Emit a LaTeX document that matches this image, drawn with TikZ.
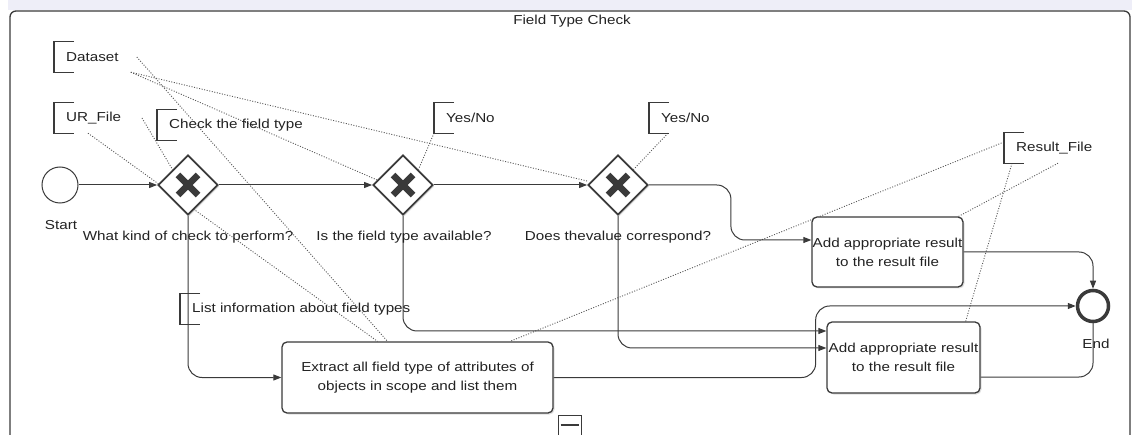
\documentclass[tikz,border=0pt]{standalone}
\usepackage{fontspec}
\setmainfont[FakeStretch=1.17]{Liberation Sans}
\usetikzlibrary{shapes.geometric,arrows.meta,backgrounds,shadows}
\definecolor{ln}{HTML}{3A3A3A}
\definecolor{band}{HTML}{EEEEF8}
\definecolor{txt}{HTML}{222222}
\begin{document}
\begin{tikzpicture}[x=1pt,y=-1pt,
  every node/.style={font=\fontsize{13}{19}\selectfont, text=txt},
  task/.style={rectangle, rounded corners=5pt, draw=ln, line width=1.3pt, fill=white, inner sep=0pt, align=center,
    drop shadow={shadow xshift=1.5pt, shadow yshift=-1.5pt, opacity=0.25}},
  gw/.style={diamond, draw=ln, line width=1.8pt, fill=white, minimum width=60pt, minimum height=60pt, inner sep=0pt,
    drop shadow={shadow xshift=1.5pt, shadow yshift=-1.5pt, opacity=0.25}},
  xmark/.style={draw=ln, line width=6.5pt},
  startev/.style={circle, draw=ln, line width=1pt, fill=white, minimum size=36pt, inner sep=0pt},
  endev/.style={circle, draw=ln, line width=3.5pt, fill=white, minimum size=31pt, inner sep=0pt},
  annot/.style={anchor=west, minimum height=30pt, inner xsep=12pt, inner ysep=0pt},
  bracket/.style={draw=ln, line width=1.2pt},
  flow/.style={draw=ln, line width=1pt, rounded corners=14pt, -{Triangle[length=8pt,width=6pt]}},
  plainflow/.style={draw=ln, line width=1pt, rounded corners=14pt},
  assoc/.style={draw=gray!70!black, line width=0.9pt, dash pattern=on 1pt off 1.6pt},
  frame/.style={draw=ln, line width=1.3pt, rounded corners=6pt},
  lbl/.style={inner sep=0pt}
]
\useasboundingbox (0,0) rectangle (1132,435);
\fill[band] (8,0) rectangle (1132,10);

% ---------- nodes ----------
\node[lbl] (title) at (572,21) {Field Type Check};

\node[startev] (s) at (60,185) {};
\node[lbl] (slbl) at (61,225) {Start};

\node[gw] (g1) at (188,185) {};
\node[gw] (g2) at (403,185) {};
\node[gw] (g3) at (618,185) {};
\foreach \g in {g1,g2,g3}{
  \draw[xmark] ([shift={(-10,-10)}]\g.center) -- ([shift={(10,10)}]\g.center);
  \draw[xmark] ([shift={(-10,10)}]\g.center) -- ([shift={(10,-10)}]\g.center);
}
\node[lbl] (g1lbl) at (188,237) {What kind of check to perform?};
\node[lbl] (g2lbl) at (404,237) {Is the field type available?};
\node[lbl] (g3lbl) at (618,237) {Does thevalue correspond?};

\node[task, minimum width=271pt, minimum height=71pt] (t1) at (417.5,377.5)
  {Extract all field type of attributes of\\objects in scope and list them};
\node[task, minimum width=151pt, minimum height=70pt] (t2) at (887.5,252)
  {Add appropriate result\\to the result file};
\node[task, minimum width=153pt, minimum height=71pt] (t3) at (903.5,357.5)
  {Add appropriate result\\to the result file};

\node[endev] (e) at (1093,306) {};
\node[lbl] (elbl) at (1096,344) {End};

% annotations
\node[annot] (ds) at (54,57) {Dataset};
\node[annot] (ur) at (54,118) {UR\_File};
\node[annot] (ck) at (157,125) {Check the field type};
\node[annot] (yn1) at (434,118) {Yes/No};
\node[annot] (yn2) at (649,118) {Yes/No};
\node[annot] (rf) at (1004,148) {Result\_File};
\node[annot] (li) at (180,309) {List information about field types};
\foreach \n in {ds,ur,ck,yn1,yn2,rf,li}
  \draw[bracket] ([xshift=20pt]\n.north west) -- (\n.north west) -- (\n.south west) -- ([xshift=20pt]\n.south west);

% collapse marker
\begin{scope}
\clip (0,0) rectangle (1132,435);
\node[draw=ln, line width=1pt, fill=white, minimum width=23pt, minimum height=26pt, inner sep=0pt] (cm) at (569.5,428) {};
\draw[ln, line width=2.2pt] ([shift={(3,0)}]cm.west |- 0,425) -- ([shift={(-3,0)}]cm.east |- 0,425);
\end{scope}

% ---------- connectors (behind) ----------
\begin{pgfonlayer}{background}
\begin{scope}
\clip (0,0) rectangle (1132,435);
\draw[frame] (10,445) -- (10,11) -- (1130,11) -- (1130,445);
\end{scope}

% associations
\draw[assoc] (ds.south east) -- ([yshift=4pt]g3.west);
\draw[assoc] (ds.south east) -- ([xshift=5pt,yshift=5pt]g2.west);
\draw[assoc] ([xshift=6pt]ds.east) -- ([xshift=-30pt]t1.north);
\draw[assoc] ([xshift=34pt]ur.south west) -- ([xshift=-40pt]t1.north);
\draw[assoc] ([xshift=-15pt,yshift=7pt]ck.west) -- (g1.north west);
\draw[assoc] (yn1.south west) -- (g2.north east);
\draw[assoc] ([xshift=19pt]yn2.south west) -- (g3.north east);
\draw[assoc] ([yshift=6pt]rf.west) -- ([xshift=92.5pt]t1.north);
\draw[assoc] ([xshift=54pt]rf.south west) -- ([xshift=-5pt]t2.north east);
\draw[assoc] ([xshift=8pt]rf.south west) -- ([xshift=-15pt]t3.north east);

% sequence flows
\draw[flow] (s.east) -- (g1.west);
\draw[flow] (g1.east) -- (g2.west);
\draw[flow] (g2.east) -- (g3.west);
\draw[flow] (g3.east) -- ++(82,0) |- ([yshift=12pt]t2.west);
\draw[flow] (g1.south) |- (t1.west);
\draw[flow] (g2.south) |- ([yshift=26.5pt]t3.west);
\draw[flow] (g3.south) |- ([yshift=9.5pt]t3.west);
\draw[flow] (t1.east) -- ++(262,0) |- (e.west);
\draw[flow] (t2.east) -| (e.north);
\draw[plainflow] ([yshift=-19.5pt]t3.east) -| (e.south);
\end{pgfonlayer}
\end{tikzpicture}
\end{document}
